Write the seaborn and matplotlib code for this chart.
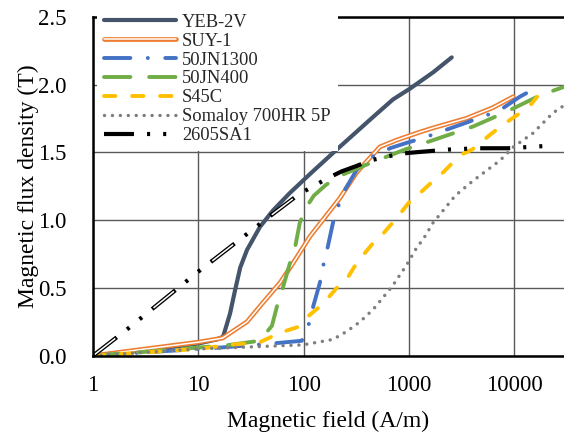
import numpy as np
import pandas as pd
import matplotlib
matplotlib.use('Agg')
import matplotlib.pyplot as plt
import matplotlib.patheffects as pe
import seaborn as sns

sns.set_theme(style="white")
plt.rcParams['font.family'] = ['Liberation Serif', 'DejaVu Serif']
plt.rcParams['lines.scale_dashes'] = False

# B-H curves (H in A/m, B in T)
yeb_h = [1, 5, 10, 15, 17.2, 20, 22.3, 25, 29, 38.5, 51, 74, 115, 206, 456, 706, 1025, 1700, 2550]
yeb_b = [0, 0.06, 0.09, 0.12, 0.14, 0.31, 0.48, 0.65, 0.78, 0.95, 1.07, 1.20, 1.34, 1.52, 1.76, 1.89, 1.97, 2.09, 2.20]

suy_h = [1, 10, 17, 29, 41, 60, 79, 115, 220, 318, 530, 764, 1280, 1700, 3500, 6300, 9800]
suy_b = [0, 0.10, 0.13, 0.25, 0.39, 0.54, 0.68, 0.88, 1.16, 1.35, 1.54, 1.59, 1.65, 1.68, 1.75, 1.83, 1.91]

jn1300_h = [1, 16, 50, 96, 110, 123, 143, 152, 166, 190, 206, 237, 319, 428, 662, 953, 1420, 1970, 3540, 4900, 7300, 11300, 15700]
jn1300_b = [0, 0.06, 0.09, 0.11, 0.21, 0.36, 0.54, 0.65, 0.77, 0.98, 1.07, 1.20, 1.37, 1.46, 1.53, 1.57, 1.61, 1.65, 1.72, 1.76, 1.81, 1.91, 1.97]

jn400_h = [1, 3.3, 10, 20, 38, 50, 57, 64, 74, 83, 92, 107, 125, 163, 226, 343, 912, 1700, 4060, 8500, 17600, 29000]
jn400_b = [0, 0.03, 0.06, 0.08, 0.11, 0.22, 0.39, 0.51, 0.68, 0.80, 0.98, 1.10, 1.18, 1.26, 1.33, 1.39, 1.52, 1.59, 1.69, 1.80, 1.92, 1.98]

s45c_h = [1, 10, 20, 38.5, 60, 87, 110, 136, 177, 212, 264, 306, 384, 456, 569, 698, 850, 1025,
          1317, 1600, 2100, 2580, 3280, 3980, 5300, 6620, 8770, 10900, 14700, 16500]
s45c_b = [0, 0.05, 0.08, 0.10, 0.17, 0.21, 0.29, 0.35, 0.44, 0.51, 0.58, 0.66, 0.76, 0.83, 0.90, 0.98, 1.06, 1.14,
          1.21, 1.27, 1.35, 1.42, 1.49, 1.52, 1.60, 1.66, 1.73, 1.78, 1.86, 1.91]

somaloy_h = [1, 10, 98.7, 190, 258, 343, 456, 569, 706, 953, 1150, 1420, 1694, 2110, 2750, 4060, 7330, 9840, 15000, 23300, 29000]
somaloy_b = [0, 0.05, 0.08, 0.12, 0.18, 0.25, 0.34, 0.43, 0.52, 0.67, 0.78, 0.88, 0.98, 1.07, 1.18, 1.29, 1.44, 1.54, 1.64, 1.79, 1.84]

sa1_h = [1, 2.15, 10, 50, 86.5, 100, 170, 231, 320, 428, 828, 1150, 2350, 4470, 8770, 23300]
sa1_b = [0, 0.20, 0.62, 1.04, 1.18, 1.21, 1.31, 1.36, 1.40, 1.44, 1.49, 1.50, 1.52, 1.53, 1.53, 1.55]
sa1_hollow = 5  # first points drawn as hollow dashes

x_ticks = [1, 10, 100, 1000, 10000]
x_tick_labels = ['1', '10', '100', '1000', '10000']
y_ticks = [0.0, 0.5, 1.0, 1.5, 2.0, 2.5]
y_tick_labels = ['0.0', '0.5', '1.0', '1.5', '2.0', '2.5']

fig = plt.figure(figsize=(5.64, 4.32), dpi=100)
ax = fig.add_axes([0.1649, 0.1766, 0.8351, 0.7847])
ax.set_xscale('log')

sns.lineplot(x=yeb_h, y=yeb_b, ax=ax, color='#44546A', linewidth=3.0, label='YEB-2V')
sns.lineplot(x=suy_h, y=suy_b, ax=ax, color='white', linewidth=1.1, label='SUY-1',
             path_effects=[pe.Stroke(linewidth=3.4, foreground='#ED7D31'), pe.Normal()])
sns.lineplot(x=jn1300_h, y=jn1300_b, ax=ax, color='#4472C4', linewidth=2.8, label='50JN1300',
             linestyle=(0, (19, 12.5, 0.1, 12.5)), dash_capstyle='round')
sns.lineplot(x=jn400_h, y=jn400_b, ax=ax, color='#70AD47', linewidth=2.8, label='50JN400',
             linestyle=(0, (19, 13.5)), dash_capstyle='round')
sns.lineplot(x=s45c_h, y=s45c_b, ax=ax, color='#FFC000', linewidth=2.8, label='S45C',
             linestyle=(0, (8.2, 12)), dash_capstyle='round')
sns.lineplot(x=somaloy_h, y=somaloy_b, ax=ax, color='#7F7F7F', linewidth=2.5, label='Somaloy 700HR 5P',
             linestyle=(0, (0.01, 5.7)), dash_capstyle='round')
sns.lineplot(x=sa1_h, y=sa1_b, ax=ax, color='black', linewidth=3.0, label='2605SA1',
             linestyle=(0, (21.6, 9.4, 2.2, 9.4, 2.2, 9.4)))
period = 21.6 + 2.2 * 2 + 9.4 * 3
sns.lineplot(x=sa1_h[:sa1_hollow], y=sa1_b[:sa1_hollow], ax=ax, color='white', linewidth=1.1,
             linestyle=(period - 1.3, (19.0, period - 19.0)))

ax.set_xlim(1, 29700)
ax.set_ylim(0, 2.5)
ax.set_xticks(x_ticks)
ax.set_xticklabels(x_tick_labels)
ax.set_yticks(y_ticks)
ax.set_yticklabels(y_tick_labels)
ax.minorticks_off()
ax.tick_params(axis='both', which='both', length=0, labelsize=16.5, colors='black')
ax.tick_params(axis='y', pad=19)
ax.tick_params(axis='x', pad=14)
ax.grid(True, which='major', color='#5a5a5a', linewidth=1.0)
ax.set_axisbelow(True)

for side in ['left', 'bottom', 'top']:
    ax.spines[side].set_color('black')
    ax.spines[side].set_linewidth(1.8)
ax.spines['right'].set_visible(False)

ax.set_xlabel('Magnetic field (A/m)', fontsize=17, color='black', labelpad=10.5)
ax.set_ylabel('Magnetic flux density (T)', fontsize=17, color='black', labelpad=-0.5)

ax.legend(loc='upper left', bbox_to_anchor=(0.0085, 1.03), borderaxespad=0, frameon=True,
          fancybox=False, framealpha=1, facecolor='white', edgecolor='none', fontsize=13.3,
          handlelength=3.9, handletextpad=0.3, labelspacing=0.1, borderpad=0.4)

fig.savefig('out.png', dpi=100)
